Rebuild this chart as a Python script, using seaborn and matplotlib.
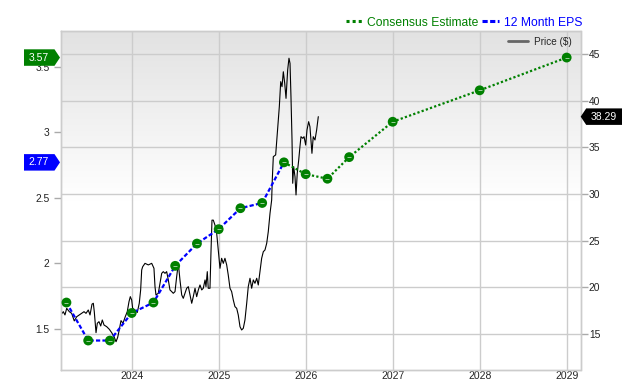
import numpy as np
import pandas as pd
import matplotlib
matplotlib.use("Agg")
import matplotlib.pyplot as plt
import seaborn as sns
from matplotlib.lines import Line2D
from matplotlib.patches import Polygon

# ---------------- data ----------------
price_dates = [
    2023.184, 2023.214, 2023.233, 2023.253, 2023.283, 2023.310, 2023.340, 2023.368,
    2023.398, 2023.425, 2023.452, 2023.475, 2023.501, 2023.521, 2023.544, 2023.559,
    2023.570, 2023.590, 2023.605, 2023.624, 2023.644, 2023.662, 2023.682, 2023.713,
    2023.743, 2023.770, 2023.797, 2023.820, 2023.839, 2023.857, 2023.877, 2023.900,
    2023.926, 2023.949, 2023.969, 2023.984, 2024.000, 2024.011, 2024.038, 2024.064,
    2024.087, 2024.103, 2024.115, 2024.126, 2024.153, 2024.191, 2024.230, 2024.256,
    2024.268, 2024.279, 2024.306, 2024.325, 2024.345, 2024.363, 2024.383, 2024.402,
    2024.421, 2024.440, 2024.460, 2024.478, 2024.498, 2024.517, 2024.536, 2024.555,
    2024.575, 2024.593, 2024.613, 2024.632, 2024.651, 2024.670, 2024.690, 2024.708,
    2024.728, 2024.747, 2024.766, 2024.785, 2024.805, 2024.823, 2024.843, 2024.854,
    2024.869, 2024.880, 2024.900, 2024.911, 2024.923, 2024.938, 2024.957, 2024.977,
    2024.995, 2025.015, 2025.034, 2025.053, 2025.072, 2025.092, 2025.110, 2025.130,
    2025.149, 2025.168, 2025.187, 2025.207, 2025.225, 2025.245, 2025.264, 2025.283,
    2025.302, 2025.322, 2025.340, 2025.360, 2025.379, 2025.398, 2025.417, 2025.437,
    2025.455, 2025.475, 2025.494, 2025.513, 2025.532, 2025.552, 2025.570, 2025.590,
    2025.609, 2025.616, 2025.628, 2025.655, 2025.674, 2025.697, 2025.713, 2025.728,
    2025.743, 2025.759, 2025.774, 2025.793, 2025.808, 2025.820, 2025.831, 2025.843,
    2025.851, 2025.862, 2025.877, 2025.889, 2025.903, 2025.920, 2025.934, 2025.946,
    2025.966, 2025.981, 2026.000, 2026.015, 2026.034, 2026.049, 2026.061, 2026.072,
    2026.087, 2026.107, 2026.126, 2026.145,
]
price_values = [
    17.04, 17.39, 17.04, 17.75, 17.39, 17.21, 16.40, 16.85,
    17.04, 17.21, 17.39, 17.21, 17.57, 17.04, 18.20, 18.29,
    17.39, 15.14, 16.15, 16.32, 15.86, 16.50, 15.96, 15.78,
    15.50, 15.14, 14.71, 14.17, 14.64, 15.43, 16.43, 16.15,
    16.85, 17.39, 18.46, 19.00, 18.64, 17.75, 17.57, 17.30,
    18.29, 19.72, 21.86, 22.20, 22.57, 22.40, 22.57, 22.04,
    20.07, 19.18, 19.36, 20.43, 21.50, 21.68, 21.50, 21.68,
    20.79, 19.72, 19.54, 19.36, 19.54, 21.14, 22.57, 20.79,
    19.18, 18.82, 19.36, 19.90, 20.07, 19.18, 18.29, 19.00,
    19.90, 19.00, 19.72, 20.25, 19.72, 19.90, 20.79, 20.07,
    21.68, 19.90, 19.90, 23.64, 27.20, 27.20, 26.68, 25.79,
    24.00, 22.04, 23.11, 22.57, 23.11, 22.40, 21.32, 19.90,
    19.54, 18.64, 17.93, 17.75, 17.04, 15.78, 15.43, 15.61,
    16.50, 18.29, 20.07, 20.97, 19.90, 20.79, 20.43, 20.97,
    20.25, 21.68, 23.11, 23.82, 24.00, 24.72, 25.96, 27.93,
    29.36, 31.50, 34.00, 34.19, 36.50, 39.36, 42.04, 41.50,
    43.10, 41.86, 40.25, 43.30, 44.55, 44.00, 40.40, 35.79,
    31.15, 32.93, 31.86, 29.90, 32.22, 33.65, 35.07, 36.14,
    35.97, 36.14, 35.25, 36.86, 37.75, 37.21, 35.79, 34.36,
    36.14, 35.79, 36.86, 38.29,
]

eps_actual_dates = [2023.25, 2023.50, 2023.75, 2024.00, 2024.25, 2024.50,
                    2024.75, 2025.00, 2025.25, 2025.50, 2025.75]
eps_actual_values = [1.70, 1.41, 1.41, 1.62, 1.70, 1.98, 2.15, 2.26, 2.42, 2.46, 2.77]

eps_est_dates = [2025.75, 2026.00, 2026.25, 2026.50, 2027.00, 2028.00, 2029.00]
eps_est_values = [2.77, 2.68, 2.645, 2.81, 3.08, 3.32, 3.57]

year_ticks = [2024, 2025, 2026, 2027, 2028, 2029]
price_ticks = [15, 20, 25, 30, 35, 40, 45]
eps_ticks = [1.5, 2, 2.5, 3, 3.5]
eps_tick_labels = ["1.5", "2", "2.5", "3", "3.5"]

legend_labels = ["Consensus Estimate", "12 Month EPS"]
price_label = "Price ($)"
eps_tag_est = "3.57"
eps_tag_act = "2.77"
price_tag = "38.29"

# ---------------- style ----------------
GREEN = "#008000"
BLUE = "#0000ff"
GRID = "#cccccc"
TXT = "#222222"

sns.set_style("white")
plt.rcParams["font.family"] = ["Liberation Sans", "DejaVu Sans"]

W, H = 640, 380
fig = plt.figure(figsize=(W / 100, H / 100), dpi=100)
ax_l, ax_r, ax_t, ax_b = 60.7, 580.5, 30.7, 370.0
ax = fig.add_axes([ax_l / W, 1 - ax_b / H, (ax_r - ax_l) / W, (ax_b - ax_t) / H])

# gradient background
grad = np.ones((256, 1, 3))
yy = np.linspace(1, 0, 256)  # top -> bottom
shade = np.clip(0.885 + (1 - 0.885) * (1 - yy) / 0.5, 0.885, 1.0)
grad[:, 0, :] = shade[:, None]
ax.imshow(grad, extent=[0, 1, 0, 1], transform=ax.transAxes, aspect="auto",
          zorder=0, interpolation="bilinear")

price_df = pd.DataFrame({"date": price_dates, "price": price_values})
sns.lineplot(data=price_df, x="date", y="price", ax=ax, color="black",
             linewidth=0.8, zorder=3)

xmin, xmax = 2023.184, 2029.159
ax.set_xlim(xmin, xmax)
ax.set_ylim(11.14, 47.5)
ax.set_xticks(year_ticks)
ax.set_xticklabels([str(y) for y in year_ticks])
ax.set_yticks(price_ticks)
ax.set_yticklabels([str(p) for p in price_ticks])
ax.set_axisbelow(True)
ax.grid(True, color=GRID, linewidth=1.0)
ax.set_xlabel("")
ax.set_ylabel("")

ax2 = ax.twinx()
ax.yaxis.tick_right()
ax2.yaxis.tick_left()
ax2.yaxis.set_label_position("left")

act_df = pd.DataFrame({"date": eps_actual_dates, "eps": eps_actual_values})
est_df = pd.DataFrame({"date": eps_est_dates, "eps": eps_est_values})
all_df = pd.concat([act_df, est_df.iloc[1:]], ignore_index=True)

sns.lineplot(data=est_df, x="date", y="eps", ax=ax2, color=GREEN,
             linewidth=1.6, linestyle=(0, (1, 1)), zorder=4)
sns.lineplot(data=act_df, x="date", y="eps", ax=ax2, color=BLUE,
             linewidth=1.6, linestyle=(0, (1.9, 1.0)), zorder=4)
sns.scatterplot(data=all_df, x="date", y="eps", ax=ax2, color=GREEN, s=50,
                edgecolor="none", linewidth=0, zorder=5)
sns.scatterplot(data=all_df, x="date", y="eps", ax=ax2, color="#d8ecd8", s=5,
                marker="_", linewidth=0.5, zorder=6)

ax2.set_xlim(xmin, xmax)
ax2.set_ylim(1.185, 3.775)
ax2.set_yticks(eps_ticks)
ax2.set_yticklabels(eps_tick_labels)
ax2.set_xlabel("")
ax2.set_ylabel("")
ax2.grid(False)

for a in (ax, ax2):
    for sp in a.spines.values():
        sp.set_color(GRID)
        sp.set_linewidth(1.0)

ax.tick_params(axis="y", which="both", right=True, left=False, length=5,
               width=1, color="#aaaaaa", labelsize=7.4, labelcolor=TXT, pad=1)
ax.tick_params(axis="x", length=0, labelsize=7.5, labelcolor=TXT, pad=0.6)
ax2.tick_params(axis="y", which="both", left=True, right=False, length=5,
                width=1, color="#aaaaaa", labelsize=7.4, labelcolor=TXT, pad=3)

# legends
handles = [Line2D([], [], color=GREEN, linewidth=2.2, linestyle=(0, (1, 1))),
           Line2D([], [], color=BLUE, linewidth=2.2, linestyle=(0, (1.7, 0.8)))]
leg = fig.legend(handles, legend_labels, loc="center right",
                 bbox_to_anchor=(582 / W, 1 - 22.5 / H), ncol=2, frameon=False,
                 fontsize=8.7, handlelength=1.35, handletextpad=0.4,
                 columnspacing=0.3, borderpad=0, borderaxespad=0)
for t, c in zip(leg.get_texts(), [GREEN, BLUE]):
    t.set_color(c)

pleg = ax2.legend([Line2D([], [], color="#666666", linewidth=2)], [price_label],
                  loc="center right", bbox_to_anchor=(0.983, 0.9676),
                  frameon=False, fontsize=7.2, handlelength=2.0,
                  handletextpad=0.55, borderpad=0, borderaxespad=0)
pleg.set_zorder(10)


# tags
def tag(y_disp, tip_x, body_x, color, text, text_x, fontsize=7.5):
    h = 16.5
    arrow = 5.5
    if body_x < tip_x:  # pointing right
        verts = [(body_x, y_disp - h / 2), (tip_x - arrow, y_disp - h / 2),
                 (tip_x, y_disp), (tip_x - arrow, y_disp + h / 2),
                 (body_x, y_disp + h / 2)]
    else:  # pointing left
        verts = [(body_x, y_disp - h / 2), (tip_x + arrow, y_disp - h / 2),
                 (tip_x, y_disp), (tip_x + arrow, y_disp + h / 2),
                 (body_x, y_disp + h / 2)]
    verts = [(vx / W, vy / H) for vx, vy in verts]
    fig.add_artist(Polygon(verts, closed=True, facecolor=color, edgecolor="none",
                           transform=fig.transFigure, zorder=20))
    fig.text(text_x / W, y_disp / H, text, color="white", fontsize=fontsize,
             ha="center", va="center", zorder=21)


y_est = ax2.transData.transform((xmin, eps_est_values[-1]))[1]
y_act = ax2.transData.transform((xmin, eps_actual_values[-1]))[1]
y_price = ax.transData.transform((xmin, price_values[-1]))[1]
tag(y_est, 60.0, 24.0, GREEN, eps_tag_est, 38.5)
tag(y_act, 60.0, 24.0, BLUE, eps_tag_act, 38.5)
tag(y_price, 580.7, 622.0, "black", price_tag, 603.5)

fig.savefig("out.png", dpi=100)
